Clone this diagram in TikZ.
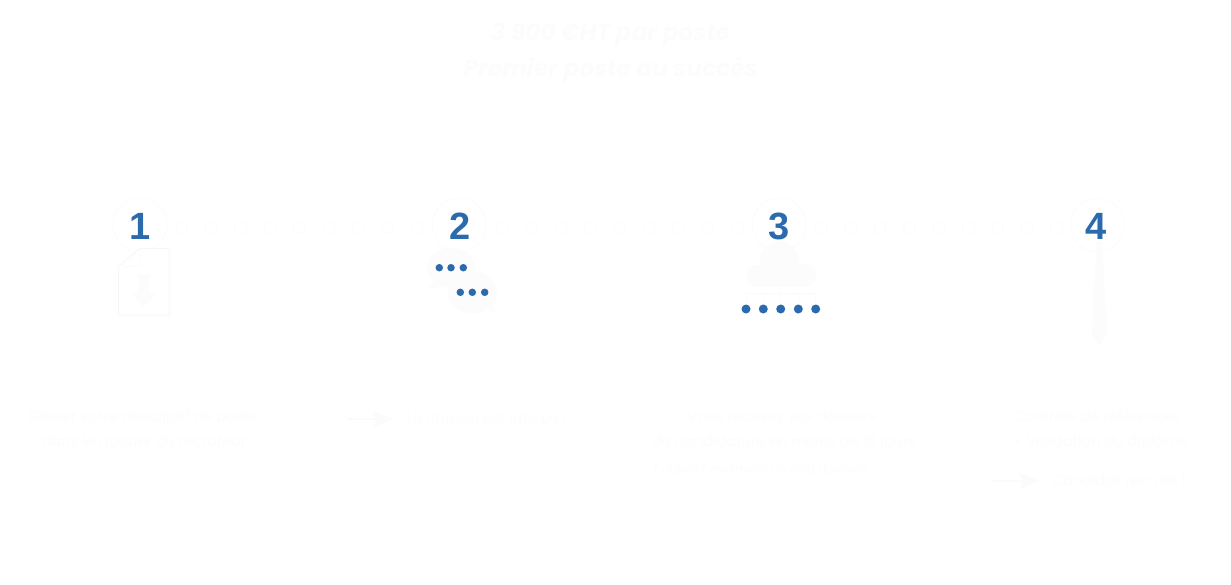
\documentclass[tikz,border=0pt]{standalone}
\usepackage{fontspec}
\setmainfont{Poppins}
\usetikzlibrary{arrows.meta}
\newfontfamily\digitfont{Liberation Sans}[BoldFont={Liberation Sans Bold}]
\definecolor{faint}{HTML}{FCFCFC}
\definecolor{faintline}{HTML}{FBFBFB}
\definecolor{faintedge}{HTML}{F6F6F6}
\definecolor{stepblue}{HTML}{2A6AAD}
\tikzset{
  x=1pt,y=-1pt,
  ring/.style={circle,draw=faintline,line width=0.7pt,minimum size=54pt,inner sep=0pt,fill=white},
  bead/.style={circle,draw=faintline,line width=0.7pt,minimum size=12pt,inner sep=0pt},
  num/.style={font=\digitfont\bfseries\fontsize{38}{38}\selectfont,text=stepblue,inner sep=0pt},
  dotblue/.style={circle,fill=stepblue,inner sep=0pt,minimum size=7.5pt},
  dotbig/.style={circle,fill=stepblue,inner sep=0pt,minimum size=9pt},
  iconfill/.style={fill=faint,draw=none},
  headline/.style={font=\bfseries\itshape\fontsize{23.3}{24}\selectfont,text=faint,inner sep=0pt,anchor=base},
  body/.style={font=\fontsize{14.6}{15}\selectfont,text=faint,inner sep=0pt,anchor=base},
  small/.style={font=\fontsize{11.9}{12}\selectfont,text=faint,inner sep=0pt,anchor=base},
  fat/.style={draw=faintline,line width=2pt,-{Stealth[length=20pt,width=17pt,inset=3pt]}},
}
\begin{document}
\begin{tikzpicture}
\useasboundingbox (0,0) rectangle (1231,584);
\node[headline] (t1) at (610.8,40) {3 900 €HT par poste};
\node[headline] (t2) at (610.5,76) {Premier poste au succès};
\foreach \i/\xx in {0/181.7,1/211.1,2/240.5,3/269.9,4/299.3,5/328.7,6/358.1,7/387.5,8/416.9,
  9/502,10/531.4,11/560.8,12/590.2,13/619.6,14/649,15/678.4,16/707.8,17/737.2,
  18/821.3,19/850.7,20/880.1,21/909.5,22/938.9,23/968.3,24/997.7,25/1027.1,26/1056.5}
  \node[bead] (b\i) at (\xx,227.7) {};
\node[ring] (r1) at (140,225) {};
\node[ring] (r2) at (459.3,225) {};
\node[ring] (r3) at (779.3,225) {};
\node[ring] (r4) at (1097.3,225) {};
\node[num] (n1) at (140,226) {1};
\node[num] (n2) at (459.8,226) {2};
\node[num] (n3) at (779.3,226) {3};
\node[num] (n4) at (1096.5,226) {4};
% document
\draw[faintline,line width=1pt] (170.3,249) -- (170.3,316.3) -- (119,316.3);
\draw[faintedge,line width=0.8pt,fill=white] (140,248.5) -- (169,248.5) -- (169,315) -- (118.5,315) -- (118.5,266.5) -- cycle;
\draw[faintline,line width=0.8pt] (140,249) -- (139.5,266.5) -- (122,266.5);
\fill[iconfill] (138.5,274) -- (149,274) -- (149,294) -- (156,294) -- (143.7,307) -- (132,294) -- (138.5,294) -- cycle;
% bubbles
\fill[iconfill] (451,267.7) ellipse (24 and 20);
\fill[iconfill] (428,289) -- (437,278) -- (446,285) -- cycle;
\fill[iconfill] (472.7,292.3) ellipse (25 and 21);
\fill[iconfill] (496.7,314.3) -- (482,305) -- (491,298) -- cycle;
\foreach \i/\xx/\yy in {1/439.3/267.7,2/451/267.7,3/463.3/267.7,4/460.3/292.3,5/472.3/292.3,6/484.7/292.3}
  \node[dotblue] (d\i) at (\xx,\yy) {};
% cloud
\fill[iconfill] (779.3,261.7) circle (20);
\fill[iconfill] (757.3,276) circle (11);
\fill[iconfill] (804,275) circle (12);
\fill[iconfill] (757,270) rectangle (804,287);
\draw[faintline,line width=1pt] (746,293.5) -- (815.7,293.5);
\foreach \i/\xx in {1/746,2/763.3,3/780.7,4/798.3,5/815.7}{
  \node[dotbig] (e\i) at (\xx,309) {};
  \draw[faintline,line width=1pt] (\xx,293.5) -- (e\i);
}
\draw[faintline,line width=1pt] (780.7,287) -- (780.7,293.5);
% tie
\fill[iconfill] (1095.7,241.7) -- (1103.3,241.7) -- (1102.5,250) -- (1096.5,250) -- cycle;
\fill[iconfill] (1096,252) -- (1103,252) -- (1106.7,335) -- (1099.3,346) -- (1091.7,335) -- cycle;
% texts
\node[body] (a1) at (143,421.5) {Glisser votre descriptif de poste};
\node[body] (a2) at (144,446.5) {dans le dossier du recruteur};
\coordinate (p1) at (346.7,419);
\coordinate (p2) at (393,419);
\draw[fat] (p1) -- (p2);
\node[body,anchor=base west] (c1) at (406.7,423.5) {La chasse est lancée !};
\node[body] (g1) at (782.5,421.5) {Vous recevez vos dossiers};
\node[body] (g2) at (784,446.5) {de candidature en moins de 15 jours};
\node[small] (g3) at (760,473) {* objectif minimum de cinq dossiers};
\node[body] (k1) at (1097.5,421.5) {Contrôle de références};
\node[body] (k2) at (1100,446.5) {+ Validation du diplôme};
\coordinate (q1) at (991.7,481);
\coordinate (q2) at (1039.3,481);
\draw[fat] (q1) -- (q2);
\node[body,anchor=base west] (k3) at (1051.7,485) {Candidat recruté !};
\end{tikzpicture}
\end{document}
